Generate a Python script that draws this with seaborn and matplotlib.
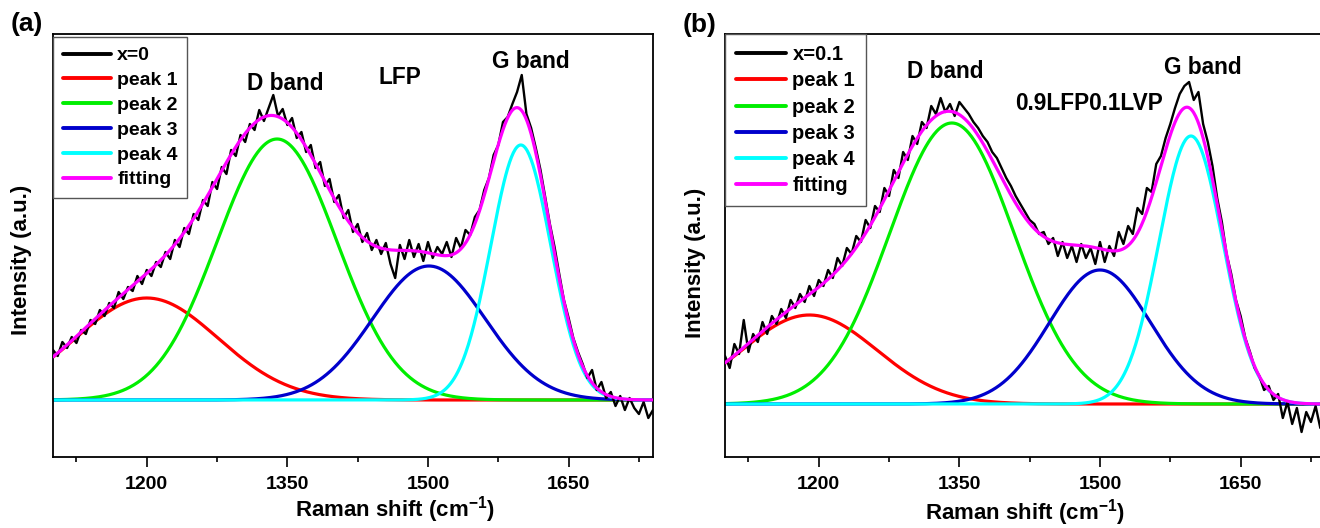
import numpy as np
import pandas as pd
import matplotlib
matplotlib.use("Agg")
import matplotlib.pyplot as plt
from matplotlib.ticker import MultipleLocator
import seaborn as sns

# ---------------- data ----------------
shift = list(range(1100, 1745, 5))  # Raman shift (cm-1)

raw_a = [50, 44, 58, 52, 63, 57, 70, 66, 80, 76, 90, 84, 97, 92, 108, 101, 113, 109, 124, 116,
         130, 124, 138, 133, 148, 141, 160, 153, 172, 166, 186, 180, 200, 194, 218, 211, 233, 226,
         250, 244, 265, 258, 276, 270, 290, 279, 292, 305, 284, 291, 275, 282, 262, 268, 248, 255,
         232, 238, 214, 221, 198, 205, 182, 190, 168, 176, 158, 167, 150, 160, 146, 157, 136, 122,
         155, 141, 160, 143, 156, 139, 158, 142, 153, 146, 158, 143, 162, 152, 170, 165, 183, 190,
         210, 222, 245, 255, 278, 283, 296, 308, 325, 286, 272, 252, 230, 203, 176, 153, 126, 100,
         82, 62, 48, 36, 22, 30, 10, 18, 2, 8, -6, 4, -10, 2, -8, -14, -2, -18, -10]

raw_b = [48, 36, 60, 50, 84, 52, 70, 62, 82, 70, 88, 80, 95, 86, 104, 96, 110, 102, 118, 108,
         124, 118, 134, 126, 146, 138, 156, 150, 168, 162, 184, 176, 198, 192, 216, 208, 234, 226,
         252, 244, 268, 260, 282, 276, 298, 290, 306, 292, 300, 288, 302, 296, 290, 282, 276, 268,
         262, 252, 246, 236, 226, 218, 208, 200, 192, 184, 180, 170, 172, 160, 166, 148, 162, 146,
         158, 142, 160, 146, 156, 140, 162, 142, 158, 148, 172, 160, 178, 170, 196, 190, 216, 212,
         240, 248, 266, 280, 296, 310, 318, 322, 304, 312, 280, 262, 238, 206, 182, 150, 130, 104,
         88, 66, 52, 36, 28, 14, 18, 4, 10, -14, 2, -20, -4, -28, -8, -18, -2, -24, -10]

# fitted Gaussian components: centre, height, sigma (cm-1)
peaks_a_center = [1200, 1339, 1501, 1599]
peaks_a_height = [102, 261, 134, 255]
peaks_a_sigma = [76, 64, 60, 32]

peaks_b_center = [1190, 1342, 1500, 1597]
peaks_b_height = [89, 281, 134, 268]
peaks_b_sigma = [72, 66.5, 54, 34]

peak_names = ["peak 1", "peak 2", "peak 3", "peak 4"]
xticks = [1200, 1350, 1500, 1650]

# ---------------- style ----------------
sns.set_theme(style="ticks")
plt.rcParams["font.family"] = ["Liberation Sans", "DejaVu Sans"]
plt.rcParams["font.weight"] = "bold"
plt.rcParams["text.color"] = "black"
plt.rcParams["axes.labelcolor"] = "black"
plt.rcParams["xtick.color"] = "black"
plt.rcParams["ytick.color"] = "black"
plt.rcParams["mathtext.fontset"] = "custom"
plt.rcParams["mathtext.rm"] = "Liberation Sans:bold"
plt.rcParams["mathtext.it"] = "Liberation Sans:bold"
plt.rcParams["mathtext.bf"] = "Liberation Sans:bold"
plt.rcParams["mathtext.default"] = "rm"

peak_colors = ["#FF0000", "#00EE00", "#0000CC", "#00FFFF"]
fit_color = "#FF00FF"

W, H = 1320, 528
fig = plt.figure(figsize=(W / 100, H / 100), dpi=100)

def px_axes(left, top, right, bottom):
    return fig.add_axes([left / W, 1 - bottom / H, (right - left) / W, (bottom - top) / H])

ax_a = px_axes(53, 34, 653, 457)
ax_b = px_axes(725, 34, 1325, 457)

grid = np.linspace(1100, 1740, 641)


def draw_panel(ax, raw, centers, heights, sigmas, raw_label, ylim, leg_fs, leg_anchor,
               leg_pad, leg_space):
    df = pd.DataFrame({"shift": shift, "intensity": raw})
    sns.lineplot(data=df, x="shift", y="intensity", ax=ax, color="black", lw=1.7,
                 label=raw_label, estimator=None, sort=False, zorder=3)
    total = np.zeros_like(grid)
    comps = []
    for c, h, s in zip(centers, heights, sigmas):
        comp = h * np.exp(-0.5 * ((grid - c) / s) ** 2)
        comps.append(comp)
        total = total + comp
    for comp, col, name in zip(comps, peak_colors, peak_names):
        sns.lineplot(x=grid, y=comp, ax=ax, color=col, lw=2.3, label=name,
                     estimator=None, sort=False, zorder=2)
    sns.lineplot(x=grid, y=total, ax=ax, color=fit_color, lw=2.3, label="fitting",
                 estimator=None, sort=False, zorder=4)
    ax.set_xlim(1100, 1740)
    ax.set_ylim(*ylim)
    ax.set_xticks(xticks)
    ax.xaxis.set_minor_locator(MultipleLocator(75))
    ax.set_yticks([])
    ax.set_xlabel("")
    ax.set_ylabel("")
    for sp in ax.spines.values():
        sp.set_visible(True)
        sp.set_color("black")
        sp.set_linewidth(1.3)
    ax.tick_params(axis="x", which="major", direction="out", length=7, width=1.2,
                   labelsize=14, pad=7, colors="black")
    ax.tick_params(axis="x", which="minor", direction="out", length=3.5, width=1.2,
                   colors="black")
    for lab in ax.get_xticklabels():
        lab.set_fontweight("bold")
    leg = ax.legend(loc="upper left", bbox_to_anchor=leg_anchor, borderaxespad=0,
                    frameon=True, fancybox=False, handlelength=2.5,
                    handletextpad=0.3, labelspacing=leg_space, borderpad=leg_pad,
                    prop={"weight": "bold", "size": leg_fs})
    leg.get_frame().set_edgecolor("#555555")
    leg.get_frame().set_linewidth(1.0)
    leg.get_frame().set_alpha(1)
    for t in leg.get_texts():
        t.set_color("black")
    for line in leg.get_lines():
        line.set_linewidth(2.8)


draw_panel(ax_a, raw_a, peaks_a_center, peaks_a_height, peaks_a_sigma, "x=0",
           (-57, 366), 14, (0, 1 - 3 / 423), 0.5, 0.37)
draw_panel(ax_b, raw_b, peaks_b_center, peaks_b_height, peaks_b_sigma, "x=0.1",
           (-53, 370), 14.5, (0, 1), 0.55, 0.36)

ann = dict(fontsize=16.3, fontweight="bold", ha="center", va="center", color="black")
ax_a.text(1348, 317, "D band", **ann)
ax_a.text(1470, 322, "LFP", **ann)
ax_a.text(1610, 339, "G band", **ann)
ax_b.text(1335, 333, "D band", **ann)
ax_b.text(1488, 301, "0.9LFP0.1LVP", **ann)
ax_b.text(1610, 337, "G band", **ann)

def ftext(x, y, s, **kw):
    fig.text(x / W, 1 - y / H, s, **kw)

lab = dict(fontsize=16, fontweight="bold", ha="center", va="center", color="black")
ftext(395, 510, r"Raman shift (cm$^{-1}$)", **lab)
ftext(1025, 513, r"Raman shift (cm$^{-1}$)", **lab)
ftext(22, 260, "Intensity (a.u.)", rotation=90, **lab)
ftext(695, 263, "Intensity (a.u.)", rotation=90, **lab)
ftext(27, 24, "(a)", fontsize=19, fontweight="bold", ha="center", va="center")
ftext(700, 25, "(b)", fontsize=19, fontweight="bold", ha="center", va="center")

fig.savefig("out.png", dpi=100)
